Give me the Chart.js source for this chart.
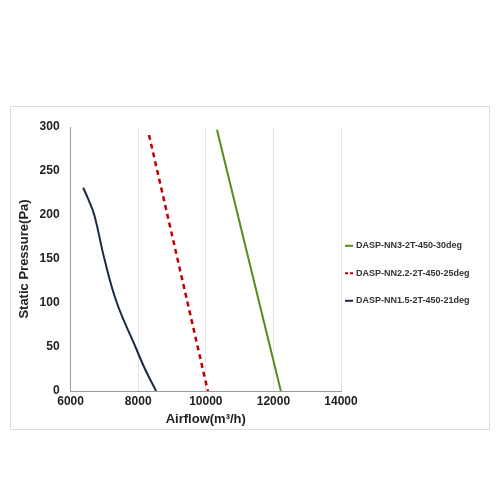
<!DOCTYPE html>
<html><head><meta charset="utf-8">
<script src="https://cdn.jsdelivr.net/npm/chart.js@4/dist/chart.umd.min.js"></script>
<style>
body{margin:0;background:#fff;width:500px;height:500px;position:relative;font-family:Arial,"Liberation Sans",sans-serif}
#box{position:absolute;left:10px;top:106px;width:478px;height:322px;border:1px solid #ddd}
</style></head><body>
<div id="box"><canvas id="c"></canvas></div>
<script>
// airflow (m3/h), pressure (Pa) pairs
const nn3Flow = [10330, 12220];
const nn3Pa = [297, 0];
const nn22Flow = [8320, 10060];
const nn22Pa = [291, 0];
const nn15Flow = [6370, 6500, 6700, 7000, 7370, 7920, 8200, 8530];
const nn15Pa = [231, 220, 200, 150, 100, 50, 25, 0];
const xTicks = [6000, 8000, 10000, 12000, 14000];

const pts = (xs, ys) => xs.map((x, i) => ({ x: x, y: ys[i] }));

// legend drawn at the right, outside the plot area
const sideLegend = {
    id: "sideLegend",
    afterDraw(chart) {
        const ctx = chart.ctx;
        const x0 = chart.chartArea.right + 4;
        const y0 = chart.scales.y.getPixelForValue(165) ;
        ctx.save();
        ctx.font = "bold 9px Arial, 'Liberation Sans', sans-serif";
        ctx.textBaseline = "middle";
        chart.data.datasets.forEach((ds, i) => {
            const y = y0 + i * 27.5;
            ctx.strokeStyle = ds.borderColor;
            ctx.lineWidth = 2;
            ctx.setLineDash(ds.borderDash ? [3, 2] : []);
            ctx.beginPath(); ctx.moveTo(x0, y); ctx.lineTo(x0 + 8, y); ctx.stroke();
            ctx.fillStyle = "#333";
            ctx.fillText(ds.label, x0 + 11, y);
        });
        ctx.restore();
    }
};

new Chart(document.getElementById("c"), {
    type: "line",
    data: {
        datasets: [
            { label: "DASP-NN3-2T-450-30deg", data: pts(nn3Flow, nn3Pa), borderColor: "#5a8a1e", borderWidth: 2, pointRadius: 0 },
            { label: "DASP-NN2.2-2T-450-25deg", data: pts(nn22Flow, nn22Pa), borderColor: "#c00000", borderWidth: 2.5, borderDash: [5, 4], pointRadius: 0 },
            { label: "DASP-NN1.5-2T-450-21deg", data: pts(nn15Flow, nn15Pa), borderColor: "#1b2a40", borderWidth: 2, pointRadius: 0, tension: 0.4 }
        ]
    },
    plugins: [sideLegend],
    options: {
        responsive: true, maintainAspectRatio: false, animation: false,
        layout: { padding: { top: 20, bottom: 2, right: 148, left: 2 } },
        plugins: { legend: { display: false }, tooltip: { enabled: false } },
        scales: {
            x: {
                type: "linear", min: 6000, max: 14000,
                afterBuildTicks: a => { a.ticks = xTicks.map(v => ({ value: v })); },
                title: { display: true, text: "Airflow(m³/h)", color: "#222", font: { size: 13, weight: "bold" }, padding: 0 },
                ticks: { color: "#222", font: { size: 12, weight: "bold" }, callback: v => String(v) },
                grid: { color: "#e4e4e4", drawTicks: false },
                border: { color: "#999" }
            },
            y: {
                min: 0, max: 300,
                title: { display: true, text: "Static Pressure(Pa)", color: "#222", font: { size: 13, weight: "bold" } },
                ticks: { stepSize: 50, color: "#222", font: { size: 12, weight: "bold" } },
                grid: { display: false },
                border: { color: "#999" }
            }
        }
    }
});
</script>
</body></html>
